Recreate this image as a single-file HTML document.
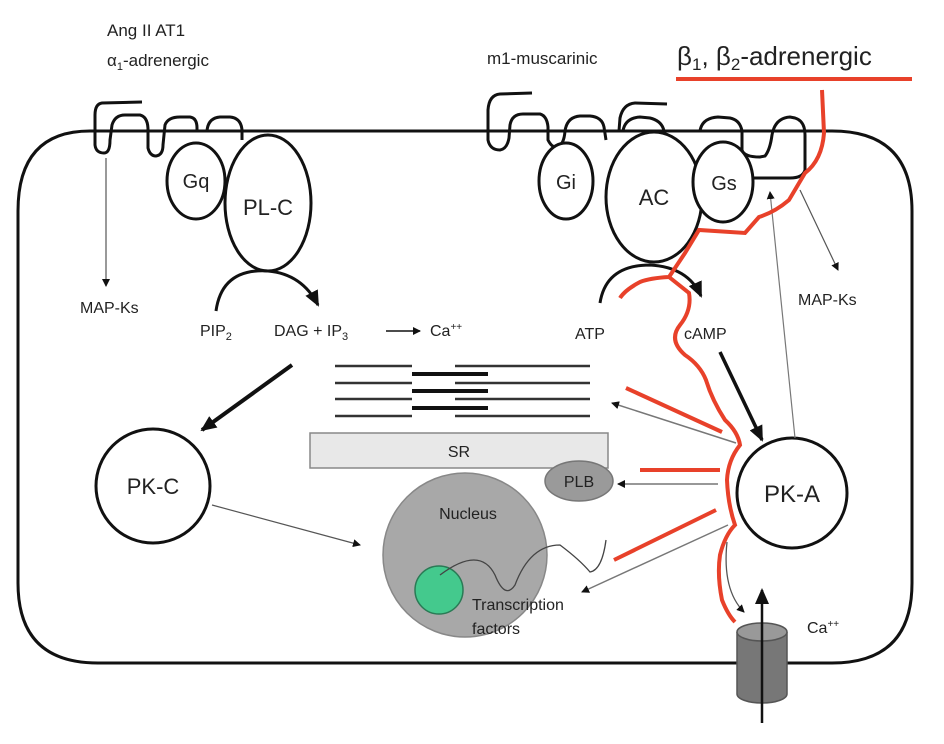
<!DOCTYPE html>
<html><head><meta charset="utf-8"><style>
html,body{margin:0;padding:0;background:#fff;}
svg{display:block;}
text{font-family:"Liberation Sans",sans-serif;fill:#222;}
</style></head><body>
<svg width="944" height="744" viewBox="0 0 944 744" xmlns="http://www.w3.org/2000/svg">
<defs>
<marker id="ah" markerWidth="8" markerHeight="8" refX="7" refY="4" orient="auto" markerUnits="userSpaceOnUse"><path d="M0,0 L8,4 L0,8 z" fill="#111"/></marker>
<marker id="ahb" markerWidth="16" markerHeight="14" refX="14" refY="7" orient="auto" markerUnits="userSpaceOnUse"><path d="M0,0 L16,7 L0,14 z" fill="#111"/></marker>
</defs>
<path d="M90,131 L832,131 Q912,131 912,211 L912,583 Q912,663 832,663 L98,663 Q18,663 18,583 L18,211 Q18,131 90,131 Z" fill="none" stroke="#111" stroke-width="3"/>
<text x="107" y="36" font-size="17">Ang II  AT1</text>
<text x="107" y="66" font-size="17">α<tspan font-size="11" dy="4">1</tspan><tspan dy="-4">-adrenergic</tspan></text>
<text x="487" y="64" font-size="17">m1-muscarinic</text>
<text x="677" y="65" font-size="26">β<tspan font-size="17" dy="5">1</tspan><tspan dy="-5">, β</tspan><tspan font-size="17" dy="5">2</tspan><tspan dy="-5">-adrenergic</tspan></text>
<line x1="676" y1="79" x2="912" y2="79" stroke="#e8412a" stroke-width="4"/>
<path d="M142,102 L102,103 Q95,104 95,115 L95,145 Q96,153 104,153 Q110,153 110,140 L112,125 Q115,115 125,115 L140,115 Q148,117 148,130 L148,148 Q150,156 156,156 Q163,155 163,145 L165,125 Q168,117 180,117 L190,117 Q197,118 197,128 L197,131 M207,131 Q208,118 220,117 L230,117 Q241,118 242,130 L242,140" fill="none" stroke="#111" stroke-width="3"/>
<ellipse cx="196" cy="181" rx="29" ry="38" fill="#fff" stroke="#111" stroke-width="3"/>
<ellipse cx="268" cy="203" rx="43" ry="68" fill="#fff" stroke="#111" stroke-width="3"/>
<text x="196" y="188" font-size="20" text-anchor="middle">Gq</text>
<text x="268" y="215" font-size="22" text-anchor="middle">PL-C</text>
<path d="M216,311 Q222,268 268,271 Q302,274 318,305" fill="none" stroke="#111" stroke-width="3" marker-end="url(#ahb)"/>
<line x1="106" y1="158" x2="106" y2="286" stroke="#555" stroke-width="1.2" marker-end="url(#ah)"/>
<text x="80" y="313" font-size="16">MAP-Ks</text>
<text x="200" y="336" font-size="16">PIP<tspan font-size="11" dy="4">2</tspan></text>
<text x="274" y="336" font-size="16">DAG + IP<tspan font-size="11" dy="4">3</tspan></text>
<line x1="386" y1="331" x2="420" y2="331" stroke="#111" stroke-width="1.5" marker-end="url(#ah)"/>
<text x="430" y="336" font-size="16">Ca<tspan font-size="10" dy="-6">++</tspan></text>
<path d="M532,93 L500,94 Q489,95 488,110 L488,140 Q490,150 500,150 Q507,149 509,138 L510,125 Q512,114 523,114 L540,114 Q547,116 548,127 L548,140 Q552,148 557,147 Q564,145 565,131 Q567,117 580,116 L590,116 Q602,117 604,127 L606,140
M667,104 L635,103 Q623,104 620,118 L619,131 M623,131 Q625,118 640,117 L650,118 Q662,121 664,131 M700,131 Q702,118 718,117 L730,118 Q740,120 742,131 L742,150 Q744,157 760,157 L765,156 Q770,150 772,135 Q775,118 790,117 L795,118 Q805,121 805,135 L805,170 Q803,178 790,178 L752,178" fill="none" stroke="#111" stroke-width="3"/>
<ellipse cx="566" cy="181" rx="27" ry="38" fill="#fff" stroke="#111" stroke-width="3"/>
<ellipse cx="654" cy="197" rx="48" ry="65" fill="#fff" stroke="#111" stroke-width="3"/>
<ellipse cx="723" cy="182" rx="30" ry="40" fill="#fff" stroke="#111" stroke-width="3"/>
<text x="566" y="189" font-size="20" text-anchor="middle">Gi</text>
<text x="654" y="205" font-size="22" text-anchor="middle">AC</text>
<text x="724" y="190" font-size="20" text-anchor="middle">Gs</text>
<path d="M600,303 Q606,265 650,265 Q688,267 701,296" fill="none" stroke="#111" stroke-width="3" marker-end="url(#ahb)"/>
<text x="575" y="339" font-size="16">ATP</text>
<text x="684" y="339" font-size="16">cAMP</text>
<line x1="800" y1="190" x2="838" y2="270" stroke="#555" stroke-width="1.2" marker-end="url(#ah)"/>
<text x="798" y="305" font-size="16">MAP-Ks</text>
<g stroke="#333" stroke-width="2.5">
<line x1="335" y1="366" x2="412" y2="366"/><line x1="455" y1="366" x2="590" y2="366"/>
<line x1="335" y1="383" x2="412" y2="383"/><line x1="455" y1="383" x2="590" y2="383"/>
<line x1="335" y1="399" x2="412" y2="399"/><line x1="455" y1="399" x2="590" y2="399"/>
<line x1="335" y1="416" x2="412" y2="416"/><line x1="455" y1="416" x2="590" y2="416"/>
</g>
<g stroke="#111" stroke-width="4">
<line x1="412" y1="374" x2="488" y2="374"/>
<line x1="412" y1="391" x2="488" y2="391"/>
<line x1="412" y1="408" x2="488" y2="408"/>
</g>
<rect x="310" y="433" width="298" height="35" fill="#e8e8e8" stroke="#888" stroke-width="1.5"/>
<text x="459" y="457" font-size="16" text-anchor="middle">SR</text>
<ellipse cx="579" cy="481" rx="34" ry="20" fill="#9a9a9a" stroke="#777" stroke-width="1.5"/>
<text x="579" y="487" font-size="16" text-anchor="middle">PLB</text>
<ellipse cx="465" cy="555" rx="82" ry="82" fill="#a8a8a8" stroke="#888" stroke-width="1.5"/>
<text x="468" y="519" font-size="16" text-anchor="middle">Nucleus</text>
<circle cx="439" cy="590" r="24" fill="#44c98d" stroke="#2a7a55" stroke-width="1.5"/>
<path d="M440,575 Q480,545 495,575 Q505,600 515,585 Q530,545 560,545 Q580,560 590,572 Q602,570 606,540" fill="none" stroke="#444" stroke-width="1.3"/>
<text x="472" y="610" font-size="16">Transcription</text>
<text x="472" y="634" font-size="16">factors</text>
<circle cx="153" cy="486" r="57" fill="#fff" stroke="#111" stroke-width="3"/>
<text x="153" y="494" font-size="22" text-anchor="middle">PK-C</text>
<line x1="292" y1="365" x2="202" y2="430" stroke="#111" stroke-width="4" marker-end="url(#ahb)"/>
<line x1="212" y1="505" x2="360" y2="545" stroke="#555" stroke-width="1.2" marker-end="url(#ah)"/>
<circle cx="792" cy="493" r="55" fill="#fff" stroke="#111" stroke-width="3"/>
<text x="792" y="502" font-size="24" text-anchor="middle">PK-A</text>
<line x1="720" y1="352" x2="762" y2="440" stroke="#111" stroke-width="3.5" marker-end="url(#ahb)"/>
<line x1="795" y1="438" x2="770" y2="192" stroke="#777" stroke-width="1.2" marker-end="url(#ah)"/>
<line x1="736" y1="443" x2="612" y2="403" stroke="#777" stroke-width="1.5" marker-end="url(#ah)"/>
<line x1="718" y1="484" x2="618" y2="484" stroke="#777" stroke-width="1.5" marker-end="url(#ah)"/>
<line x1="728" y1="525" x2="582" y2="592" stroke="#777" stroke-width="1.5" marker-end="url(#ah)"/>
<path d="M727,542 Q722,590 744,612" fill="none" stroke="#555" stroke-width="1.3" marker-end="url(#ah)"/>
<path d="M737,632 L737,694 A25,9 0 0 0 787,694 L787,632" fill="#777" stroke="#555" stroke-width="1.5"/>
<ellipse cx="762" cy="632" rx="25" ry="9" fill="#999" stroke="#555" stroke-width="1.5"/>
<line x1="762" y1="723" x2="762" y2="590" stroke="#111" stroke-width="2.5" marker-end="url(#ahb)"/>
<text x="807" y="633" font-size="16">Ca<tspan font-size="10" dy="-6">++</tspan></text>
<g stroke="#e8412a" stroke-width="4" fill="none">
<path d="M822,90 L824,133 Q822,160 805,173 L789,200 Q775,212 759,217 L745,233 L699,230 L685,253 L669,277 Q650,278 640,282 Q625,290 620,298"/>
<path d="M669,277 L689,293 Q692,310 680,325 Q668,340 685,355 Q700,365 706,380 Q712,400 725,420 Q738,432 740,445 Q728,460 727,480 Q728,505 735,525 Q725,535 720,555 Q717,575 722,600 Q728,615 735,622"/>
<line x1="626" y1="388" x2="722" y2="432"/>
<line x1="640" y1="470" x2="720" y2="470"/>
<line x1="614" y1="560" x2="716" y2="510"/>
</g>
</svg>
</body></html>
